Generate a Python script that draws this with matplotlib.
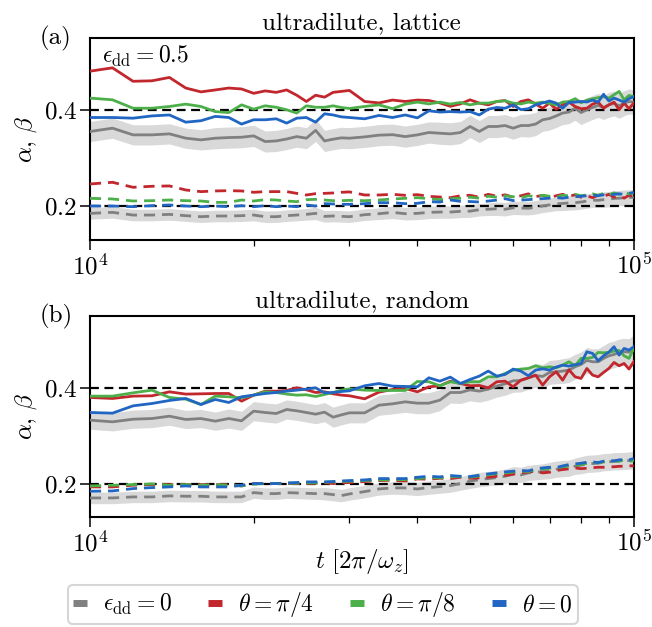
import numpy as np
import matplotlib
matplotlib.use("Agg")
import matplotlib.pyplot as plt
from matplotlib.lines import Line2D
from matplotlib.ticker import NullFormatter

plt.rcParams['font.family'] = 'serif'
plt.rcParams['font.serif'] = ['cmr10']
plt.rcParams['mathtext.fontset'] = 'cm'
plt.rcParams['axes.formatter.use_mathtext'] = True
plt.rcParams['axes.unicode_minus'] = False

# time grid (units of 2pi/omega_z)
t = np.concatenate([np.arange(10000, 30001, 1000), np.arange(32000, 100001, 2000)])

# ---- panel (a): ultradilute, lattice ----
a_red_alpha = [0.481, 0.488, 0.460, 0.461, 0.468, 0.446, 0.438, 0.442, 0.446, 0.444, 0.435, 0.440, 0.437,
               0.442, 0.431, 0.418, 0.431, 0.427, 0.437, 0.439, 0.441,
               0.418, 0.415, 0.421, 0.418, 0.421, 0.420, 0.415, 0.408, 0.413,
               0.4215, 0.4146, 0.411, 0.418, 0.420, 0.4076, 0.418, 0.4215, 0.4125, 0.404, 0.4146, 0.402, 0.411,
               0.4167, 0.4076, 0.403, 0.404, 0.4125, 0.4167, 0.404, 0.411, 0.4167, 0.4007, 0.4146, 0.403, 0.4146]
a_green_alpha = [0.425, 0.4215, 0.404, 0.404, 0.4076, 0.4125, 0.4076, 0.397, 0.395, 0.411, 0.402, 0.409, 0.406,
                 0.4007, 0.394, 0.409, 0.406, 0.406, 0.409, 0.4055, 0.4035,
                 0.4076, 0.411, 0.403, 0.4125, 0.4167, 0.413, 0.4167, 0.4125, 0.416,
                 0.411, 0.4146, 0.4146, 0.418, 0.4194, 0.4146, 0.413, 0.4167, 0.4146, 0.4167, 0.414, 0.411, 0.4167,
                 0.418, 0.4236, 0.4153, 0.4208, 0.4236, 0.426, 0.428, 0.425, 0.432, 0.439, 0.4215, 0.4306, 0.428]
a_blue_alpha = [0.3847, 0.3847, 0.3833, 0.388, 0.390, 0.375, 0.378, 0.387, 0.3847, 0.371, 0.380, 0.380, 0.382,
                0.373, 0.3833, 0.3847, 0.375, 0.3924, 0.390, 0.386, 0.3847,
                0.382, 0.389, 0.3847, 0.390, 0.384, 0.3986, 0.396, 0.397, 0.396,
                0.397, 0.390, 0.402, 0.4055, 0.404, 0.411, 0.401, 0.403, 0.411, 0.415, 0.419, 0.4146, 0.404,
                0.416, 0.4167, 0.418, 0.417, 0.421, 0.4167, 0.433, 0.419, 0.425, 0.421, 0.4167, 0.424, 0.428]
a_gray_alpha = [0.3556, 0.3625, 0.3486, 0.3486, 0.3507, 0.3417, 0.3382, 0.3417, 0.343, 0.3437, 0.3465, 0.3347, 0.336,
                0.340, 0.345, 0.3417, 0.358, 0.336, 0.3396, 0.3424, 0.3417,
                0.3444, 0.348, 0.349, 0.345, 0.3486, 0.3535, 0.352, 0.3507, 0.3535,
                0.366, 0.3556, 0.366, 0.366, 0.368, 0.3625, 0.368, 0.368, 0.371, 0.380, 0.3826, 0.388, 0.394,
                0.396, 0.404, 0.395, 0.4007, 0.4055, 0.410, 0.4055, 0.411, 0.414, 0.409, 0.4146, 0.418, 0.4167]
a_gray_alpha_err = [0.021, 0.021, 0.021, 0.021, 0.021, 0.021, 0.021, 0.022, 0.022, 0.022, 0.022, 0.022, 0.022,
                    0.022, 0.022, 0.022, 0.023, 0.022, 0.022, 0.022, 0.022,
                    0.022, 0.022, 0.022, 0.022, 0.022, 0.022, 0.023, 0.023, 0.023,
                    0.023, 0.023, 0.023, 0.023, 0.023, 0.023, 0.023, 0.024, 0.024, 0.024, 0.024, 0.024, 0.024,
                    0.024, 0.025, 0.025, 0.025, 0.025, 0.025, 0.025, 0.026, 0.026, 0.026, 0.026, 0.026, 0.026]

a_red_beta = [0.2465, 0.250, 0.2396, 0.2417, 0.2424, 0.234, 0.2306, 0.232, 0.2326, 0.232, 0.2292, 0.2306, 0.2306,
              0.2306, 0.227, 0.2236, 0.2264, 0.227, 0.2278, 0.2292, 0.230,
              0.2236, 0.2236, 0.225, 0.2229, 0.2243, 0.2208, 0.2194, 0.218, 0.222,
              0.223, 0.219, 0.225, 0.221, 0.224, 0.219, 0.222, 0.226, 0.220, 0.223, 0.218, 0.222, 0.225,
              0.221, 0.224, 0.219, 0.222, 0.218, 0.223, 0.221, 0.225, 0.219, 0.222, 0.217, 0.223, 0.221]
a_green_beta = [0.2167, 0.2153, 0.2111, 0.2118, 0.2132, 0.2118, 0.2111, 0.2083, 0.2083, 0.2132, 0.2111, 0.2139, 0.2132,
                0.2111, 0.2097, 0.2139, 0.2146, 0.2132, 0.2118, 0.2118, 0.2125,
                0.2118, 0.2132, 0.2153, 0.2167, 0.218, 0.216, 0.2139, 0.216, 0.2167,
                0.219, 0.217, 0.221, 0.219, 0.222, 0.220, 0.218, 0.222, 0.220, 0.223, 0.221, 0.219, 0.223,
                0.222, 0.225, 0.222, 0.224, 0.226, 0.223, 0.227, 0.224, 0.228, 0.225, 0.229, 0.226, 0.228]
a_blue_beta = [0.2007, 0.2007, 0.1993, 0.2014, 0.2028, 0.2007, 0.1993, 0.2007, 0.1993, 0.2014, 0.1993, 0.2014, 0.1993,
               0.2007, 0.1993, 0.2028, 0.2007, 0.2056, 0.2049, 0.2042, 0.2042,
               0.2056, 0.2076, 0.2076, 0.2056, 0.2063, 0.2097, 0.209, 0.2132, 0.2104,
               0.210, 0.209, 0.211, 0.213, 0.216, 0.212, 0.213, 0.214, 0.215, 0.216, 0.217, 0.218, 0.217,
               0.219, 0.220, 0.221, 0.222, 0.223, 0.222, 0.224, 0.223, 0.225, 0.226, 0.225, 0.227, 0.229]
a_gray_beta = [0.1854, 0.1875, 0.1819, 0.1819, 0.1833, 0.1806, 0.1785, 0.1799, 0.1799, 0.1806, 0.1819, 0.1785, 0.1785,
               0.1806, 0.1819, 0.1833, 0.1854, 0.1792, 0.1799, 0.1792, 0.1785,
               0.1826, 0.1847, 0.1875, 0.1847, 0.1854, 0.1875, 0.1882, 0.1882, 0.1896,
               0.190, 0.193, 0.194, 0.195, 0.194, 0.197, 0.1965, 0.196, 0.198, 0.201, 0.203, 0.205, 0.206,
               0.207, 0.2076, 0.209, 0.211, 0.213, 0.2125, 0.214, 0.215, 0.2165, 0.217, 0.218, 0.2185, 0.219]
a_gray_beta_err = [0.012, 0.012, 0.012, 0.012, 0.012, 0.012, 0.012, 0.012, 0.012, 0.012, 0.012, 0.012, 0.012,
                   0.012, 0.012, 0.012, 0.013, 0.012, 0.012, 0.012, 0.012,
                   0.012, 0.012, 0.013, 0.013, 0.013, 0.013, 0.013, 0.013, 0.013,
                   0.013, 0.013, 0.013, 0.014, 0.014, 0.014, 0.014, 0.014, 0.014, 0.014, 0.014, 0.014, 0.015,
                   0.015, 0.015, 0.015, 0.015, 0.015, 0.015, 0.016, 0.016, 0.016, 0.016, 0.016, 0.016, 0.016]

# ---- panel (b): ultradilute, random ----
b_red_alpha = [0.3798, 0.3777, 0.3826, 0.3833, 0.3916, 0.3868, 0.3874, 0.3881, 0.3881, 0.3721, 0.3847, 0.393, 0.393,
               0.3944, 0.400, 0.3958, 0.3902, 0.3916, 0.3874, 0.3847, 0.3833,
               0.377, 0.3909, 0.3965, 0.3986, 0.3916, 0.402, 0.4042, 0.4139, 0.409,
               0.4042, 0.4049, 0.400, 0.4126, 0.4139, 0.4021, 0.416, 0.4209, 0.4265, 0.4056, 0.423, 0.4335, 0.416,
               0.4377, 0.423, 0.4195, 0.4404, 0.4265, 0.423, 0.4321, 0.4404, 0.453, 0.446, 0.4509, 0.4391, 0.4544]
b_green_alpha = [0.3826, 0.3826, 0.3895, 0.3951, 0.3798, 0.3763, 0.3651, 0.3826, 0.3812, 0.3791, 0.3847, 0.3916, 0.3902,
                 0.3868, 0.3847, 0.3854, 0.3819, 0.386, 0.3902, 0.3951, 0.3979,
                 0.3951, 0.3944, 0.3944, 0.3944, 0.4132, 0.4126, 0.4042, 0.4126, 0.409,
                 0.4126, 0.4126, 0.423, 0.423, 0.430, 0.437, 0.4391, 0.4404, 0.446, 0.4418, 0.4439, 0.4418, 0.4474,
                 0.4544, 0.446, 0.4614, 0.4614, 0.4635, 0.4739, 0.4732, 0.4739, 0.4767, 0.4781, 0.4669, 0.4614, 0.4823]
b_blue_alpha = [0.3484, 0.347, 0.3623, 0.3672, 0.3735, 0.3777, 0.3651, 0.3756, 0.3693, 0.3812, 0.3847, 0.3881, 0.3902,
                0.393, 0.3951, 0.3972, 0.400, 0.3895, 0.3902, 0.3923, 0.3937,
                0.4042, 0.409, 0.4035, 0.4028, 0.4021, 0.4209, 0.4139, 0.4223, 0.409,
                0.4174, 0.4244, 0.4349, 0.4244, 0.4279, 0.4391, 0.4349, 0.4251, 0.437, 0.4397, 0.437, 0.4432, 0.4474,
                0.4453, 0.4481, 0.4509, 0.4753, 0.4718, 0.4565, 0.4669, 0.4746, 0.4858, 0.4683, 0.4823, 0.4788, 0.4858]
b_gray_alpha = [0.3324, 0.3289, 0.3344, 0.3358, 0.3407, 0.3338, 0.3358, 0.3303, 0.3358, 0.331, 0.3512, 0.3484, 0.3463,
                0.3547, 0.3519, 0.3484, 0.3449, 0.3491, 0.3386, 0.3435, 0.3477,
                0.3477, 0.3637, 0.3665, 0.3707, 0.3679, 0.3679, 0.3742, 0.3902, 0.3902,
                0.3958, 0.393, 0.3972, 0.4035, 0.4084, 0.4146, 0.4153, 0.4209, 0.4258, 0.4237, 0.4321, 0.4335, 0.4349,
                0.437, 0.4439, 0.4488, 0.4572, 0.4544, 0.4544, 0.4614, 0.4669, 0.4697, 0.4739, 0.4753, 0.4746, 0.4823]
b_gray_alpha_err = [0.019, 0.019, 0.019, 0.019, 0.019, 0.019, 0.019, 0.019, 0.020, 0.020, 0.020, 0.020, 0.020,
                    0.020, 0.020, 0.020, 0.020, 0.020, 0.021, 0.021, 0.021,
                    0.021, 0.021, 0.021, 0.022, 0.022, 0.022, 0.022, 0.022, 0.023,
                    0.023, 0.023, 0.023, 0.023, 0.024, 0.024, 0.024, 0.024, 0.025, 0.025, 0.025, 0.025, 0.026,
                    0.026, 0.026, 0.026, 0.027, 0.027, 0.027, 0.027, 0.028, 0.028, 0.028, 0.028, 0.028, 0.028]

b_red_beta = [0.1929, 0.1929, 0.1964, 0.1978, 0.1978, 0.1978, 0.1978, 0.1978, 0.1978, 0.195, 0.1999, 0.1999, 0.1999,
              0.1999, 0.1999, 0.1999, 0.2006, 0.2013, 0.1999, 0.2013, 0.202,
              0.2041, 0.2061, 0.2068, 0.2054, 0.2096, 0.2089, 0.211, 0.2103, 0.2131,
              0.2110, 0.2117, 0.2131, 0.2152, 0.2173, 0.2194, 0.2222, 0.2243, 0.2257, 0.2222, 0.2236, 0.2271, 0.2292,
              0.2306, 0.2326, 0.231, 0.232, 0.233, 0.234, 0.234, 0.235, 0.235, 0.236, 0.236, 0.237, 0.237]
b_green_beta = [0.1950, 0.1964, 0.1978, 0.1992, 0.1964, 0.1978, 0.1964, 0.1978, 0.1964, 0.195, 0.1985, 0.1999, 0.1999,
                0.2006, 0.2006, 0.2013, 0.2013, 0.2027, 0.2034, 0.2041, 0.2048,
                0.2061, 0.2075, 0.2082, 0.2082, 0.2103, 0.2124, 0.2117, 0.2138, 0.2145,
                0.213, 0.216, 0.218, 0.221, 0.222, 0.224, 0.226, 0.225, 0.229, 0.231, 0.232, 0.233, 0.235,
                0.237, 0.239, 0.240, 0.242, 0.243, 0.244, 0.245, 0.246, 0.247, 0.247, 0.249, 0.246, 0.248]
b_blue_beta = [0.1838, 0.1845, 0.1894, 0.1915, 0.1929, 0.195, 0.1929, 0.1929, 0.1929, 0.1964, 0.1999, 0.1999, 0.1999,
               0.2013, 0.202, 0.2034, 0.2034, 0.2034, 0.2041, 0.2054, 0.2061,
               0.2075, 0.2103, 0.2103, 0.2103, 0.2131, 0.2152, 0.2138, 0.2166, 0.2152,
               0.2145, 0.2173, 0.2201, 0.2222, 0.2243, 0.2257, 0.2271, 0.2264, 0.2306, 0.2326, 0.234, 0.2333, 0.2368,
               0.2396, 0.241, 0.2424, 0.2445, 0.2452, 0.2438, 0.2466, 0.248, 0.2473, 0.2494, 0.2501, 0.2494, 0.2522]
b_gray_beta = [0.1699, 0.1699, 0.172, 0.172, 0.1741, 0.1734, 0.1734, 0.172, 0.172, 0.172, 0.181, 0.1789, 0.1789,
               0.181, 0.1803, 0.1796, 0.1789, 0.1789, 0.1768, 0.1748, 0.1782,
               0.1831, 0.1887, 0.1908, 0.1908, 0.1887, 0.1915, 0.1936, 0.1957, 0.1999,
               0.2047, 0.2082, 0.2103, 0.2124, 0.2152, 0.2194, 0.218, 0.2222, 0.2236, 0.225, 0.2271, 0.2299, 0.2312,
               0.2319, 0.2361, 0.2382, 0.241, 0.2417, 0.2424, 0.2445, 0.2452, 0.2466, 0.2466, 0.2473, 0.248, 0.2487]
b_gray_beta_err = [0.012, 0.012, 0.012, 0.012, 0.012, 0.012, 0.012, 0.012, 0.012, 0.012, 0.012, 0.012, 0.012,
                   0.012, 0.012, 0.012, 0.012, 0.013, 0.013, 0.013, 0.013,
                   0.013, 0.013, 0.013, 0.014, 0.014, 0.014, 0.014, 0.014, 0.014,
                   0.015, 0.015, 0.015, 0.015, 0.015, 0.016, 0.016, 0.016, 0.016, 0.016, 0.017, 0.017, 0.017,
                   0.017, 0.017, 0.018, 0.018, 0.018, 0.018, 0.018, 0.018, 0.018, 0.018, 0.018, 0.018, 0.018]

labels = [r'$\epsilon_{\rm dd} = 0$', r'$\theta = \pi/4$', r'$\theta = \pi/8$', r'$\theta = 0$']
colors = ['#808080', '#c1272d', '#4daf4a', '#2166c2']
band_color = '#d9d9d9'
titles = ['ultradilute, lattice', 'ultradilute, random']
tags = ['(a)', '(b)']

panels = [
    (a_gray_alpha, a_gray_alpha_err, a_gray_beta, a_gray_beta_err,
     [a_red_alpha, a_green_alpha, a_blue_alpha], [a_red_beta, a_green_beta, a_blue_beta]),
    (b_gray_alpha, b_gray_alpha_err, b_gray_beta, b_gray_beta_err,
     [b_red_alpha, b_green_alpha, b_blue_alpha], [b_red_beta, b_green_beta, b_blue_beta]),
]

fig = plt.figure(figsize=(6.52, 6.27), dpi=100)
rects = [[0.138, 0.6172, 0.834, 0.3222], [0.138, 0.1754, 0.834, 0.3206]]
fs = 18
dash = (0, (4, 2.5))

for i, (ga, gae, gb, gbe, alphas, betas) in enumerate(panels):
    ax = fig.add_axes(rects[i])
    ga, gae, gb, gbe = map(np.array, (ga, gae, gb, gbe))
    ax.fill_between(t, ga - gae, ga + gae, color=band_color, lw=0, zorder=1)
    ax.fill_between(t, gb - gbe, gb + gbe, color=band_color, lw=0, zorder=1)
    ax.axhline(0.4, color='k', ls=dash, lw=1.6, zorder=2)
    ax.axhline(0.2, color='k', ls=dash, lw=1.6, zorder=2)
    ax.plot(t, ga, color=colors[0], lw=2.0, zorder=3)
    ax.plot(t, gb, color=colors[0], lw=2.0, ls=dash, zorder=3)
    for k in range(3):
        ax.plot(t, alphas[k], color=colors[k + 1], lw=2.0, zorder=4 + k)
        ax.plot(t, betas[k], color=colors[k + 1], lw=2.0, ls=dash, zorder=4 + k)

    ax.set_xscale('log')
    ax.set_xlim(1e4, 1e5)
    ax.set_ylim(0.13, 0.55)
    ax.set_yticks([0.2, 0.4])
    ax.xaxis.set_minor_formatter(NullFormatter())
    ax.tick_params(which='major', direction='out', length=7, width=1.1, labelsize=fs, pad=2.5)
    ax.tick_params(which='minor', direction='out', length=4, width=0.9)
    ax.tick_params(axis='y', which='minor', left=False)
    for s in ax.spines.values():
        s.set_linewidth(1.5)
    ax.set_title(titles[i], fontsize=fs, pad=6)
    ax.set_ylabel(r'$\alpha,\,\beta$', fontsize=fs, labelpad=3)
    ax.text(-0.093, 1.0, tags[i], transform=ax.transAxes, fontsize=fs, ha='left', va='center')
    if i == 0:
        ax.text(0.022, 0.91, r'$\epsilon_{\rm dd} = 0.5$', transform=ax.transAxes, fontsize=fs - 1,
                ha='left', va='center')
    else:
        ax.set_xlabel(r'$t\ [2\pi/\omega_z]$', fontsize=fs)
        ax.xaxis.set_label_coords(0.5, -0.15)

handles = [Line2D([], [], color=c, lw=5, solid_capstyle='butt') for c in colors]
leg = fig.legend(handles, labels, loc='lower center', bbox_to_anchor=(0.495, 0.005), ncol=4, fontsize=fs - 1,
                 handlelength=0.6, handletextpad=0.7, columnspacing=1.5, frameon=True, fancybox=True,
                 edgecolor='0.8', borderpad=0.2, borderaxespad=0)
leg.get_frame().set_linewidth(1.5)

fig.savefig('out.png', dpi=100)
